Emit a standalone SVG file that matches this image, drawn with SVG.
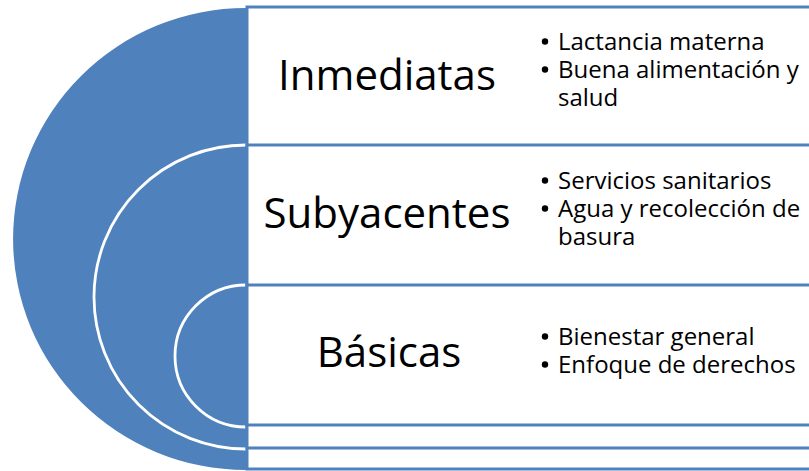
<svg xmlns="http://www.w3.org/2000/svg" width="809" height="471" viewBox="0 0 809 471">
<style>
.bg{fill:#ffffff}
.disc{fill:#4F81BD}
.ring{fill:none;stroke:#ffffff;stroke-width:2.8}
.box{fill:#ffffff;stroke:#4F81BD;stroke-width:3}
.dot{fill:#000000}
.lbl{font-family:"Open Sans","Liberation Sans",sans-serif;font-size:42px;fill:#000;text-anchor:middle}
.txt{font-family:"Open Sans","Liberation Sans",sans-serif;font-size:24px;fill:#000}
</style>
<rect class="bg" x="0" y="0" width="809" height="471"/>
<g id="target">
<path class="disc" d="M246,8 A233,231 0 0 0 246,470 Z"/>
<path class="ring" d="M246,145 A152,152 0 0 0 246,449"/>
<path class="ring" d="M246,285 A71,71 0 0 0 246,427"/>
</g>
<g id="connectors"></g>
<g id="inmediatas">
<rect class="box" x="247" y="7" width="580" height="462"/>
<text class="lbl" x="387" y="90">Inmediatas</text>
<circle class="dot" cx="545" cy="41.5" r="3.2"/>
<text class="txt" x="558" y="50">Lactancia materna</text>
<circle class="dot" cx="545" cy="69.5" r="3.2"/>
<text class="txt" x="558" y="78">Buena alimentación y</text>
<text class="txt" x="558" y="106">salud</text>
</g>
<g id="subyacentes">
<rect class="box" x="247" y="145" width="580" height="303"/>
<text class="lbl" x="387" y="228">Subyacentes</text>
<circle class="dot" cx="545" cy="180.5" r="3.2"/>
<text class="txt" x="558" y="189">Servicios sanitarios</text>
<circle class="dot" cx="545" cy="208.5" r="3.2"/>
<text class="txt" x="558" y="217">Agua y recolección de</text>
<text class="txt" x="558" y="245">basura</text>
</g>
<g id="basicas">
<rect class="box" x="247" y="285" width="580" height="140"/>
<text class="lbl" x="389" y="367">Básicas</text>
<circle class="dot" cx="545" cy="336.5" r="3.2"/>
<text class="txt" x="558" y="345">Bienestar general</text>
<circle class="dot" cx="545" cy="364.5" r="3.2"/>
<text class="txt" x="558" y="373">Enfoque de derechos</text>
</g>
</svg>
